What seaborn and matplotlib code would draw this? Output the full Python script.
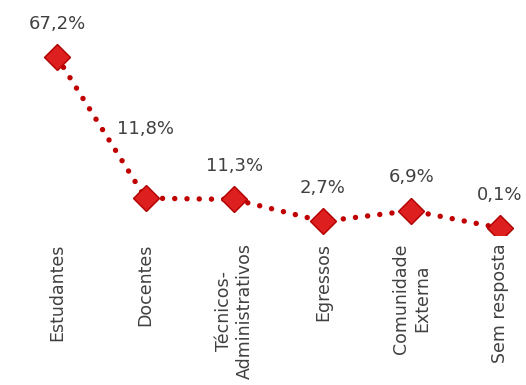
import matplotlib
matplotlib.use("Agg")
import matplotlib.pyplot as plt
import seaborn as sns
import pandas as pd

categorias = ["Estudantes", "Docentes", "Técnicos-\nAdministrativos",
              "Egressos", "Comunidade\nExterna", "Sem resposta"]
percentuais = [67.2, 11.8, 11.3, 2.7, 6.9, 0.1]
rotulos = ["67,2%", "11,8%", "11,3%", "2,7%", "6,9%", "0,1%"]

sns.set_theme(style="white")
plt.rcParams["font.family"] = ["DejaVu Sans"]

df = pd.DataFrame({"pos": range(len(categorias)), "valor": percentuais})

fig = plt.figure(figsize=(5.26, 3.85), dpi=100)
ax = fig.add_axes([0, 0.3896, 1, 0.6104])

linha_cor = "#C00000"
sns.lineplot(data=df, x="pos", y="valor", ax=ax, color=linha_cor,
             linewidth=3.9, linestyle=(0, (0.01, 2.25)),
             dash_capstyle="round", marker="D", markersize=13.5,
             markerfacecolor="#DD1F1F", markeredgecolor="#B00000",
             markeredgewidth=1.0)

texto_cor = "#404040"
for i, (v, r) in enumerate(zip(percentuais, rotulos)):
    dy = 50 if i == 1 else 24
    ax.annotate(r, (i, v), xytext=(0, dy), textcoords="offset points",
                ha="center", va="center", fontsize=13, color=texto_cor)

ax.set_xlim(-0.643, 5.294)
ax.set_ylim(-2.65, 89.55)
ax.set_xticks(range(len(categorias)))
ax.set_xticklabels(categorias, rotation=90, ha="center", va="top",
                   multialignment="center", fontsize=12.5, color=texto_cor)
ax.tick_params(axis="x", length=0, pad=6)
ax.set_yticks([])
ax.set_xlabel("")
ax.set_ylabel("")
for s in ax.spines.values():
    s.set_visible(False)
ax.patch.set_alpha(0)

fig.savefig("out.png", dpi=100)
